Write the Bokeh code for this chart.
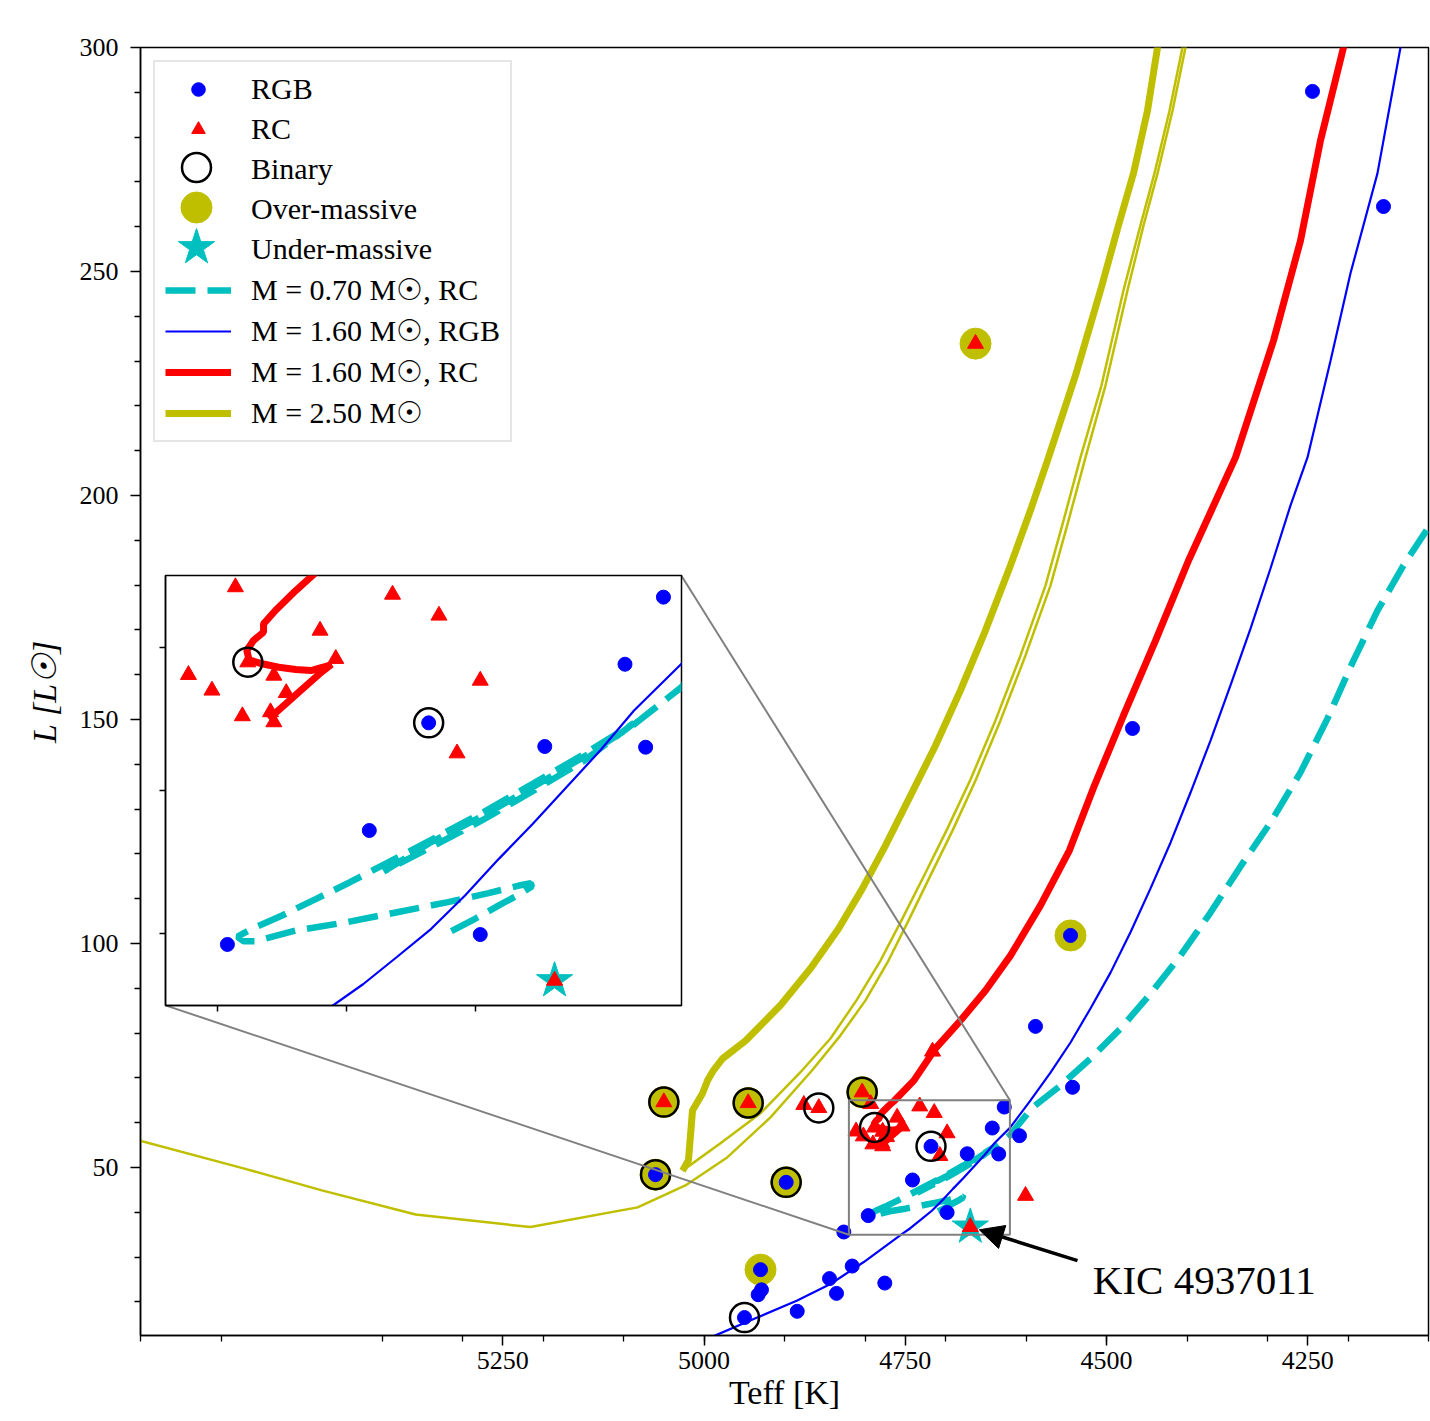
from bokeh.plotting import figure
from bokeh.models import (Range1d, FixedTicker, Legend, LegendItem, Label,
                          Arrow, NormalHead)
from bokeh.embed import file_html
from bokeh.resources import INLINE

# ---------------------------------------------------------------- data
# observed stars (Teff [K], L [Lsun])
rgb_teff = [4244.1, 4155.9, 4467.7, 4544.7, 4588.2, 4542.2, 4627.0, 4608.1, 4641.9,
            4633.9, 4673.0, 4718.0, 4741.0, 4698.0, 4796.0, 4826.3, 4897.9, 5060.2,
            4929.8, 4928.6, 4932.7, 4949.7, 4884.2, 4844.1, 4835.4, 4815.9, 4775.4]
rgb_lum = [290.2, 264.5, 148.0, 101.8, 81.5, 67.9, 63.49, 57.1, 58.81,
           53.02, 53.07, 54.72, 47.21, 39.95, 39.26, 35.6, 46.7, 48.4,
           27.2, 22.7, 21.6, 16.5, 17.9, 25.2, 21.9, 28.0, 24.2]

rc_teff = [4662.7, 4716.1, 5049.9, 4945.1, 4803.5, 4876.0, 4857.4, 4600.6, 4792.9,
           4732.0, 4714.0, 4760.1, 4754.0, 4788.1, 4811.1, 4778.0, 4802.0, 4773.2,
           4698.0, 4790.2, 4779.3, 4778.0, 4707.0, 4669.2]
rc_lum = [233.9, 75.9, 64.6, 64.4, 66.8, 64.0, 63.3, 43.7, 64.19,
          63.67, 62.21, 61.16, 59.19, 58.95, 58.07, 58.02, 56.98, 56.81,
          57.67, 55.19, 55.47, 54.77, 52.6, 36.74]

binary_teff = [5049.9, 4945.1, 4803.5, 5060.2, 4897.9, 4857.4, 4788.1, 4718.0, 4949.7]
binary_lum = [64.6, 64.4, 66.8, 48.4, 46.7, 63.3, 58.95, 54.72, 16.5]

over_teff = [4662.7, 4544.7, 5049.9, 4945.1, 4803.5, 5060.2, 4897.9, 4929.8]
over_lum = [233.9, 101.8, 64.6, 64.4, 66.8, 48.4, 46.7, 27.2]

under_teff = [4669.2]
under_lum = [36.74]

# evolutionary tracks
trk070_rc_teff = [4709.2, 4700.0, 4690.8, 4683.0, 4678.0, 4678.4, 4683.0, 4694.8, 4710.5,
                  4730.2, 4749.8, 4769.5, 4785.2, 4789.8, 4792.1, 4786.6, 4774.8, 4761.6,
                  4748.5, 4736.7, 4717.0, 4697.4, 4677.7, 4658.0, 4638.4, 4658.0, 4677.7,
                  4697.4, 4717.0, 4735.4, 4717.0, 4697.4, 4677.7, 4658.0, 4638.4, 4620.0,
                  4591.9, 4557.1, 4519.9, 4482.6, 4445.3, 4408.1, 4370.8, 4333.5, 4296.3,
                  4259.0, 4225.5, 4194.4, 4163.4, 4131.1, 4100.0]
trk070_rc_lum = [40.19, 41.05, 41.98, 42.74, 43.30, 43.53, 43.37, 42.84, 42.21,
                 41.51, 40.81, 40.23, 39.49, 39.49, 39.81, 40.35, 41.28, 42.44,
                 43.60, 44.70, 46.56, 48.42, 50.46, 52.51, 54.70, 52.05, 49.95,
                 47.91, 46.05, 44.35, 46.40, 48.19, 50.23, 52.33, 54.60, 57.21,
                 63.4, 68.3, 74.3, 81.0, 88.8, 97.3, 106.9, 117.2, 127.0,
                 138.2, 150.2, 162.7, 174.3, 184.4, 192.9]

trk160_rgb_teff = [4990.0, 4933.9, 4884.2, 4842.9, 4801.5, 4755.1, 4743.3, 4730.2, 4717.0,
                   4703.9, 4690.8, 4677.7, 4664.6, 4651.5, 4638.4, 4620.0, 4594.4, 4569.6,
                   4544.7, 4519.9, 4495.0, 4470.2, 4445.3, 4420.5, 4395.6, 4370.8, 4346.0,
                   4321.1, 4296.3, 4271.4, 4250.3, 4221.7, 4196.9, 4163.4, 4134.8, 4128.6]
trk160_rgb_lum = [12.2, 16.5, 20.3, 24.0, 28.9, 35.0, 36.5, 38.4, 40.35,
                  42.67, 45.23, 47.67, 50.23, 52.79, 55.58, 58.84, 65.0, 71.2,
                  77.9, 85.5, 93.5, 102.5, 112.3, 122.5, 133.7, 145.3, 157.6,
                  170.3, 183.7, 197.8, 208.5, 230.1, 249.6, 271.9, 300.0, 306.0]

trk160_rc_teff = [4780.0, 4773.4, 4766.9, 4760.3, 4755.7, 4759.0, 4763.6, 4769.5, 4776.1,
                  4782.6, 4787.6, 4788.5, 4785.9, 4782.0, 4782.0, 4777.4, 4769.5, 4763.0,
                  4739.4, 4712.4, 4681.4, 4650.3, 4619.3, 4582.0, 4546.0, 4514.9, 4478.9,
                  4439.1, 4398.1, 4339.7, 4292.5, 4259.0, 4234.2, 4205.6, 4196.9]
trk160_rc_lum = [55.0, 56.05, 57.09, 58.14, 58.79, 58.6, 58.37, 58.44, 58.6,
                 58.84, 59.12, 59.77, 60.47, 61.05, 61.63, 62.56, 63.95, 65.0,
                 69.4, 76.6, 82.8, 89.5, 97.3, 108.5, 120.8, 135.3, 150.9,
                 167.6, 185.5, 208.5, 234.6, 256.9, 279.2, 300.0, 306.0]

trk250_rgb_teff = [5700.5, 5569.8, 5474.7, 5358.3, 5215.6, 5082.5, 5023.1, 4970.8, 4917.4,
                   4865.6, 4830.4, 4799.4, 4770.8, 4746.0, 4718.6, 4691.3, 4662.7, 4631.7,
                   4600.6, 4569.6, 4547.2, 4526.1, 4501.2, 4473.9, 4454.0, 4436.6, 4418.0,
                   4401.9, 4395.6]
trk250_rgb_lum = [56.0, 49.7, 44.9, 39.5, 36.7, 41.1, 46.0, 52.3, 61.2,
                  71.7, 79.5, 87.3, 96.2, 105.1, 115.2, 125.2, 136.4, 149.8,
                  164.3, 179.9, 194.4, 208.5, 224.6, 245.8, 260.3, 271.9, 285.9,
                  300.0, 306.0]

trk250_he_teff = [4430.4, 4436.6, 4449.1, 4466.5, 4485.1, 4507.4, 4538.5, 4572.0, 4594.4,
                  4619.3, 4650.3, 4681.4, 4712.4, 4743.5, 4774.5, 4803.1, 4832.9, 4867.7,
                  4905.0, 4948.4, 4977.0, 4988.2, 4995.6, 5001.9, 5014.3, 5019.3, 5026.7]
trk250_he_lum = [306.0, 300.0, 285.9, 271.9, 260.3, 245.8, 226.8, 208.5, 196.7,
                 184.4, 169.9, 156.5, 144.2, 133.0, 121.9, 112.3, 103.3, 94.4,
                 86.2, 78.3, 74.3, 71.7, 69.4, 66.5, 62.7, 51.6, 49.3]

trk250_agb_teff = [5026.7, 4979.5, 4929.8, 4878.0, 4842.9, 4810.6, 4780.7, 4753.4, 4724.8,
                   4697.5, 4668.9, 4637.9, 4606.8, 4575.8, 4553.4, 4532.3, 4506.2, 4478.9,
                   4457.8, 4440.4, 4421.7, 4405.6, 4399.0]
trk250_agb_lum = [49.3, 55.4, 62.1, 71.7, 78.8, 87.3, 96.2, 105.6, 115.8,
                  125.7, 136.6, 149.8, 164.3, 179.9, 194.4, 208.5, 224.6, 245.8,
                  260.3, 271.9, 285.9, 300.0, 306.0]

# ticks
x_major = [5250, 5000, 4750, 4500, 4250]
x_minor = [5700, 5600, 5400, 5300, 5200, 5100, 5000, 4900, 4800, 4700, 4600,
           4500, 4400, 4300, 4200, 4100]
y_major = [50, 100, 150, 200, 250, 300]
y_minor = [20, 30, 40, 60, 70, 80, 90, 110, 120, 130, 140, 160, 170, 180, 190,
           210, 220, 230, 240, 260, 270, 280, 290]
inset_x_ticks = [4800, 4750, 4700]
inset_y_ticks = [40, 50, 60]

legend_labels = ["RGB", "RC", "Binary", "Over-massive", "Under-massive",
                 "M = 0.70 M\u2609, RC", "M = 1.60 M\u2609, RGB",
                 "M = 1.60 M\u2609, RC", "M = 2.50 M\u2609"]
kic_text = "KIC 4937011"

# ---------------------------------------------------------------- layout / style
X_RANGE = (5700, 4100)
Y_RANGE = (12.5, 300)
ZOOM_X = (4820, 4620)
ZOOM_Y = (35, 65)
INSET_T = (5669.0, 5028.0)   # inset frame in main data coordinates (left, right)
INSET_L = (86.2, 182.1)      # (bottom, top)

W, H = 1430, 1421
BL, BR, BT, BB = 140, 2, 47, 86
FW, FH = W - BL - BR, H - BT - BB
PAGE_MARGIN = 0

BLUE, RED, CYAN, OLIVE, GRAY = "#0000ff", "#ff0000", "#00bfbf", "#bfbf00", "#808080"
SERIF = "Liberation Serif"

LEG_MARGIN, LEG_PAD, LEG_H, LEG_SP, GLYPH_W = 13, 10, 34, 6, 66


def page_x(t):
    return PAGE_MARGIN + BL + (X_RANGE[0] - t) / (X_RANGE[0] - X_RANGE[1]) * FW


def page_y(l):
    return PAGE_MARGIN + BT + (Y_RANGE[1] - l) / (Y_RANGE[1] - Y_RANGE[0]) * FH


def draw_content(fig):
    fig.line(trk250_rgb_teff, trk250_rgb_lum, line_color=OLIVE, line_width=2.5)
    fig.line(trk250_agb_teff, trk250_agb_lum, line_color=OLIVE, line_width=2.5)
    r_olive = fig.line(trk250_he_teff, trk250_he_lum, line_color=OLIVE, line_width=7)
    r_red = fig.line(trk160_rc_teff, trk160_rc_lum, line_color=RED, line_width=7)
    r_cyan = fig.line(trk070_rc_teff, trk070_rc_lum, line_color=CYAN, line_width=6.5,
                      line_dash="30 12")
    r_blue = fig.line(trk160_rgb_teff, trk160_rgb_lum, line_color=BLUE, line_width=2.2)
    fig.scatter(over_teff, over_lum, marker="circle", size=31, fill_color=OLIVE,
                line_color=OLIVE)
    fig.scatter(under_teff, under_lum, marker="star", size=38, fill_color=CYAN,
                line_color=CYAN)
    r_rgb = fig.scatter(rgb_teff, rgb_lum, marker="circle", size=14, fill_color=BLUE,
                        line_color=BLUE)
    r_rc = fig.scatter(rc_teff, rc_lum, marker="triangle", size=16, fill_color=RED,
                       line_color=RED)
    fig.scatter(binary_teff, binary_lum, marker="circle", size=29, fill_color=None,
                line_color="black", line_width=2.5)
    return r_rgb, r_rc, r_cyan, r_blue, r_red, r_olive


# ---------------------------------------------------------------- main figure
p = figure(width=W, height=H, x_range=Range1d(*X_RANGE), y_range=Range1d(*Y_RANGE),
           output_backend="svg", toolbar_location=None,
           min_border_left=BL, min_border_right=BR, min_border_top=BT, min_border_bottom=BB)
p.background_fill_color = "white"
p.border_fill_color = "white"
p.outline_line_color = "black"
p.outline_line_width = 1.5
p.xgrid.visible = False
p.ygrid.visible = False

p.xaxis.ticker = FixedTicker(ticks=x_major, minor_ticks=x_minor)
p.yaxis.ticker = FixedTicker(ticks=y_major, minor_ticks=y_minor)
for ax in (p.xaxis[0], p.yaxis[0]):
    ax.major_tick_out = 10
    ax.major_tick_in = 0
    ax.minor_tick_out = 6
    ax.minor_tick_in = 0
    ax.major_tick_line_width = 1.5
    ax.minor_tick_line_width = 1.3
    ax.axis_line_width = 1.5
    ax.major_label_text_font = SERIF
    ax.major_label_text_font_size = "26px"
    ax.major_label_text_color = "black"
    ax.axis_label_text_font = SERIF
    ax.axis_label_text_color = "black"
p.xaxis.major_label_standoff = 6
p.xaxis.axis_label = "Teff [K]"
p.xaxis.axis_label_text_font_size = "34px"
p.xaxis.axis_label_text_font_style = "normal"
p.xaxis.axis_label_standoff = 2
p.yaxis.major_label_standoff = 12
p.yaxis.axis_label = "L [L\u2609]"
p.yaxis.axis_label_text_font_size = "34px"
p.yaxis.axis_label_text_font_style = "italic"
p.yaxis.axis_label_standoff = 14

r_rgb, r_rc, r_cyan, r_blue, r_red, r_olive = draw_content(p)

# zoom box and connectors
p.quad(left=[ZOOM_X[0]], right=[ZOOM_X[1]], bottom=[ZOOM_Y[0]], top=[ZOOM_Y[1]],
       fill_color=None, line_color=GRAY, line_width=2)
p.segment(x0=[INSET_T[1], INSET_T[0]], y0=[INSET_L[1], INSET_L[0]],
          x1=[ZOOM_X[1], ZOOM_X[0]], y1=[ZOOM_Y[1], ZOOM_Y[0]],
          line_color=GRAY, line_width=2)

# annotation
p.add_layout(Arrow(end=NormalHead(size=24, fill_color="black", line_color="black"),
                   x_start=4536, y_start=29.2, x_end=4658, y_end=36.1,
                   line_color="black", line_width=3.5))
p.add_layout(Label(x=4517, y=24.8, text=kic_text, text_font=SERIF,
                   text_font_size="41px", text_baseline="middle", text_align="left",
                   text_color="black"))

# legend
dummy_bin = p.scatter([], [], marker="circle", fill_alpha=0, line_alpha=0)
dummy_over = p.scatter([], [], marker="circle", fill_alpha=0, line_alpha=0)
dummy_under = p.scatter([], [], marker="star", fill_alpha=0, line_alpha=0)
leg_renderers = [r_rgb, r_rc, dummy_bin, dummy_over, dummy_under, r_cyan, r_blue, r_red,
                 r_olive]
legend = Legend(items=[LegendItem(label=lab, renderers=[r])
                       for lab, r in zip(legend_labels, leg_renderers)],
                location="top_left", margin=LEG_MARGIN, padding=LEG_PAD,
                spacing=LEG_SP, glyph_height=LEG_H, label_height=LEG_H,
                glyph_width=GLYPH_W, label_standoff=20,
                label_text_font=SERIF, label_text_font_size="30px",
                label_text_color="black",
                border_line_color="#cccccc", border_line_width=2,
                background_fill_color=None)
p.add_layout(legend)

# large legend markers (screen-pixel coordinates of the legend rows)
p.extra_x_ranges = {"px": Range1d(0, FW)}
p.extra_y_ranges = {"px": Range1d(0, FH)}
gx = LEG_MARGIN + LEG_PAD + GLYPH_W / 2


def row_y(i):
    return FH - (LEG_MARGIN + LEG_PAD + i * (LEG_H + LEG_SP) + LEG_H / 2)


p.scatter([gx], [row_y(2)], marker="circle", size=29, fill_color=None,
          line_color="black", line_width=2.5, x_range_name="px", y_range_name="px")
p.scatter([gx], [row_y(3)], marker="circle", size=31, fill_color=OLIVE,
          line_color=OLIVE, x_range_name="px", y_range_name="px")
p.scatter([gx], [row_y(4)], marker="star", size=38, fill_color=CYAN,
          line_color=CYAN, x_range_name="px", y_range_name="px")

# ---------------------------------------------------------------- inset figure
IBL, IBR, IBT, IBB = 30, 4, 4, 30
ifw = round(page_x(INSET_T[1]) - page_x(INSET_T[0]))
ifh = round(page_y(INSET_L[0]) - page_y(INSET_L[1]))
ins = figure(frame_width=ifw, frame_height=ifh,
             x_range=Range1d(*ZOOM_X), y_range=Range1d(*ZOOM_Y),
             output_backend="svg", toolbar_location=None,
             min_border_left=IBL, min_border_right=IBR, min_border_top=IBT,
             min_border_bottom=IBB)
ins.styles = {"position": "absolute",
              "left": f"{round(page_x(INSET_T[0])) - IBL}px",
              "top": f"{round(page_y(INSET_L[1])) - IBT}px",
              "z-index": "10"}
ins.border_fill_color = None
ins.background_fill_color = "white"
ins.outline_line_color = "black"
ins.outline_line_width = 1.5
ins.xgrid.visible = False
ins.ygrid.visible = False
ins.xaxis.ticker = FixedTicker(ticks=inset_x_ticks, minor_ticks=[])
ins.yaxis.ticker = FixedTicker(ticks=inset_y_ticks, minor_ticks=[])
for ax in (ins.xaxis[0], ins.yaxis[0]):
    ax.major_tick_out = 6
    ax.major_tick_in = 0
    ax.minor_tick_out = 0
    ax.minor_tick_in = 0
    ax.major_tick_line_width = 1.5
    ax.axis_line_width = 1.5
    ax.major_label_text_color = None
    ax.major_label_text_font_size = "1px"
    ax.major_label_standoff = 0
draw_content(ins)

open("out.html", "w").write(file_html([p, ins], INLINE))
